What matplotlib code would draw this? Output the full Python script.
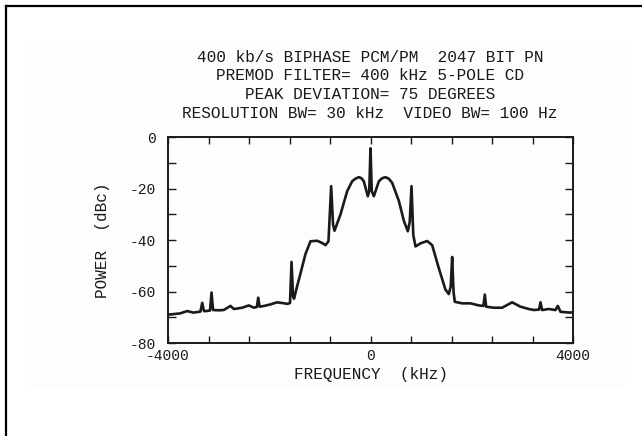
import matplotlib
matplotlib.use("Agg")
import matplotlib.pyplot as plt
from matplotlib.lines import Line2D
from matplotlib.patches import Rectangle

# --- spectrum trace (kHz, dBc) ---
freq_khz = [
    -4000, -3900, -3760, -3620, -3500, -3360, -3324, -3290, -3250, -3170,
    -3140, -3110, -3000, -2900, -2765, -2700, -2534, -2403, -2304, -2245,
    -2218, -2190, -2100, -1975, -1843, -1700, -1645, -1590, -1560, -1530,
    -1510, -1450, -1383, -1284, -1185, -1053, -950, -889, -830, -777,
    -740, -711, -592, -460, -362, -300, -230, -180, -132, -53,
    -25, 0, 25, 66, 165, 230, 296, 360, 428, 560,
    658, 737, 775, 810, 845, 889, 988, 1119, 1218, 1350,
    1481, 1547, 1585, 1613, 1640, 1665, 1810, 1975, 2139, 2230,
    2258, 2285, 2436, 2600, 2798, 2962, 3127, 3226, 3330, 3358,
    3390, 3522, 3654, 3700, 3753, 3950, 4000,
]
power_dbc = [
    -69.0, -68.8, -68.5, -67.6, -68.2, -67.8, -64.4, -67.6, -67.6, -67.4,
    -60.4, -67.2, -67.3, -67.2, -65.6, -66.8, -66.3, -65.4, -66.3, -66.0,
    -62.4, -65.9, -65.6, -65.0, -64.2, -64.6, -64.8, -64.5, -48.5, -62.0,
    -62.8, -58.0, -53.0, -45.4, -40.5, -40.3, -41.2, -42.0, -40.5, -19.1,
    -34.0, -36.4, -30.0, -21.0, -17.2, -16.2, -15.6, -16.0, -17.2, -23.0,
    -21.0, -4.4, -21.0, -23.0, -17.2, -16.0, -15.6, -16.2, -17.8, -24.8,
    -32.5, -36.6, -33.0, -19.1, -38.0, -42.5, -41.3, -40.4, -42.0, -51.0,
    -59.3, -61.0, -58.0, -46.6, -60.0, -64.0, -64.6, -64.6, -65.4, -65.6,
    -61.2, -65.9, -66.3, -66.3, -64.2, -65.9, -66.8, -67.2, -67.0, -64.2,
    -67.2, -66.8, -67.2, -65.6, -67.9, -68.2, -68.0,
]
assert len(freq_khz) == len(power_dbc)

x_ticks = [-4000, -3200, -2400, -1600, -800, 0, 800, 1600, 2400, 3200, 4000]
x_labeled = [-4000, 0, 4000]
y_ticks = [0, -10, -20, -30, -40, -50, -60, -70, -80]
y_labeled = [0, -20, -40, -60, -80]

header = [
    "400 kb/s BIPHASE PCM/PM  2047 BIT PN",
    "PREMOD FILTER= 400 kHz 5-POLE CD",
    "PEAK DEVIATION= 75 DEGREES",
    "RESOLUTION BW= 30 kHz  VIDEO BW= 100 Hz",
]

mono = "Liberation Mono"
ink = "#1a1a1a"

fig = plt.figure(figsize=(6.42, 4.36), dpi=100)
W, H = 642, 436

# faint scan background and the page border (top + left only)
fig.patches.append(Rectangle((30 / W, 1 - 388 / H), 595 / W, 346 / H,
                             transform=fig.transFigure, facecolor="#fdfdfd",
                             edgecolor="none", zorder=-5))
fig.lines.append(Line2D([6 / W, 1], [1 - 6 / H, 1 - 6 / H],
                        transform=fig.transFigure, color="black", lw=1.6,
                        zorder=-4))
fig.lines.append(Line2D([6 / W, 6 / W], [0, 1 - 6 / H],
                        transform=fig.transFigure, color="black", lw=1.6,
                        zorder=-4))

ax = fig.add_axes([168 / W, 1 - 343 / H, 405 / W, 206 / H])
ax.set_zorder(2)
ax.set_facecolor("none")
ax.plot(freq_khz, power_dbc, color=ink, lw=1.9, solid_joinstyle="round")

ax.set_xlim(-4000, 4000)
ax.set_ylim(-80, 0)
ax.set_xticks(x_ticks)
ax.set_xticklabels([str(t) if t in x_labeled else "" for t in x_ticks])
ax.set_yticks(y_ticks)
ax.set_yticklabels([str(t) if t in y_labeled else "" for t in y_ticks])
ax.tick_params(axis="x", direction="in", length=5, width=1.0, top=True,
               pad=4, labelsize=10.5, colors=ink)
ax.tick_params(axis="y", direction="in", length=6, width=1.0, right=True,
               pad=9, labelsize=10.5, colors=ink)
for lab in ax.get_xticklabels() + ax.get_yticklabels():
    lab.set_fontfamily(mono)
for sp in ax.spines.values():
    sp.set_linewidth(1.4)
    sp.set_color(ink)

ax.set_xlabel("FREQUENCY  (kHz)", fontfamily=mono, fontsize=11.5, color=ink,
              labelpad=3)
ax.set_ylabel("POWER  (dBc)", fontfamily=mono, fontsize=11.5, color=ink,
              labelpad=14)

# four-line header above the plot
for i, line in enumerate(header):
    fig.text(370 / W, 1 - (57 + i * 18.8) / H, line, ha="center", va="center",
             fontfamily=mono, fontsize=11.6, color=ink)

fig.savefig("out.png", dpi=100)
